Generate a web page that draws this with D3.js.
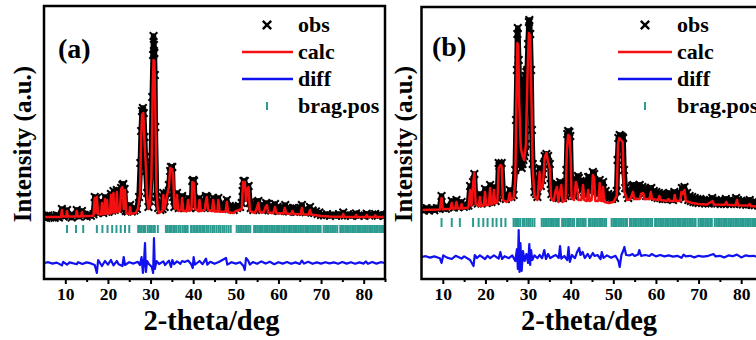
<!DOCTYPE html>
<html>
<head>
<meta charset="utf-8">
<script src="https://cdn.jsdelivr.net/npm/d3@7"></script>
<style>
  html, body { margin: 0; padding: 0; background: #fff; }
  svg { display: block; font-family: "Liberation Serif", "Times New Roman", serif; font-weight: bold; }
</style>
</head>
<body>
<div id="chart"></div>
<script>
// ---- data: [2theta, intensity] ----
const xTicks = [10, 20, 30, 40, 50, 60, 70, 80];
const xMinorTicks = [15, 25, 35, 45, 55, 65, 75, 85];

// panel (a)
const calcA = [[5,500],[9.0,500],[9.2,850],[9.4,520],[10.2,520],[10.4,800],[10.6,520],[12.5,520],[12.7,800],[12.9,530],[13.7,530],[13.9,750],[14.1,540],[16.6,560],[16.9,1450],[17.2,700],[17.4,1500],[17.7,650],[18.4,620],[18.6,1200],[18.8,640],[19.1,650],[19.3,1400],[19.5,650],[19.8,1350],[20.0,660],[20.5,680],[20.7,1600],[20.9,700],[21.1,1500],[21.3,1700],[21.5,720],[21.9,750],[22.1,1750],[22.3,760],[22.8,800],[23.1,1900],[23.4,2000],[23.7,900],[24.0,1850],[24.3,700],[25.0,650],[25.2,1000],[25.4,650],[26.5,700],[27.0,900],[27.5,1600],[27.8,4500],[28.0,5600],[28.3,5700],[28.6,4200],[28.9,3000],[29.2,1500],[29.5,900],[29.8,1100],[30.2,2500],[30.5,7000],[30.7,8350],[30.9,8300],[31.1,6000],[31.4,1800],[31.7,900],[32.0,700],[32.8,800],[33.0,1600],[33.3,900],[33.8,1500],[34.3,2000],[34.6,2950],[35.0,2900],[35.3,2600],[35.6,1000],[35.9,900],[36.2,1600],[36.5,800],[37.2,850],[37.4,1450],[37.7,800],[38.5,800],[38.8,1350],[39.1,800],[39.6,900],[39.8,2250],[40.2,2200],[40.5,900],[41.2,800],[41.5,1350],[41.8,800],[42.7,850],[43.0,1300],[43.2,1500],[43.5,850],[44.4,800],[44.7,1350],[45.0,780],[45.7,780],[45.9,1350],[46.2,760],[47.6,760],[47.9,1250],[48.2,740],[49.5,700],[50.0,800],[51.4,900],[51.7,2250],[52.1,2250],[52.4,1300],[52.7,1900],[53.0,2000],[53.3,800],[54.5,700],[55.0,1000],[55.3,1200],[55.6,750],[56.5,720],[57.0,1000],[57.3,1100],[57.6,720],[58.8,700],[59.2,1000],[59.5,700],[61.2,680],[61.5,950],[61.8,680],[63.0,650],[63.3,800],[63.6,650],[65.2,640],[65.5,950],[65.8,640],[67.1,630],[67.4,850],[67.7,620],[70,550],[72,520],[75,510],[75.2,650],[75.4,510],[78,500],[78.2,600],[78.4,500],[80.5,500],[80.7,600],[80.9,500],[82.5,500],[82.7,580],[82.9,500],[85,500]];

const obsA = [[5,560],[5.5,450],[6,580],[6.5,470],[7,550],[7.5,460],[8,590],[8.5,480],[9.2,900],[9.6,520],[10.4,850],[11,560],[11.5,470],[12,580],[12.7,850],[13.2,520],[13.9,800],[14.5,600],[15,520],[15.5,620],[16,560],[16.6,640],[16.9,1500],[17.2,780],[17.4,1450],[17.7,700],[18.1,760],[18.6,1250],[18.9,700],[19.3,1500],[19.6,760],[19.8,1400],[20.1,760],[20.4,820],[20.7,1650],[21.0,820],[21.3,1800],[21.6,860],[22.1,1850],[22.4,900],[22.8,950],[23.1,1950],[23.4,2100],[23.6,2150],[23.9,1900],[24.2,800],[24.6,780],[25.2,1100],[25.6,780],[26.2,820],[26.8,900],[27.3,1500],[27.6,3200],[27.8,4800],[28.0,5800],[28.2,5950],[28.4,5700],[28.6,4500],[28.9,2800],[29.2,1700],[29.5,1000],[29.8,1300],[30.2,3500],[30.4,6500],[30.6,8600],[30.7,9550],[30.8,9100],[30.9,8700],[31.0,7600],[31.1,5000],[31.4,1500],[31.8,950],[32.3,850],[32.8,900],[33.0,1700],[33.3,1000],[33.8,1700],[34.3,2100],[34.6,2800],[34.8,3000],[35.1,3000],[35.3,1500],[35.6,1000],[36.2,1700],[36.6,950],[37.0,1000],[37.4,1550],[37.8,950],[38.3,1000],[38.8,1450],[39.2,950],[39.6,1100],[39.8,2300],[40.0,2350],[40.2,2300],[40.4,1300],[40.8,950],[41.1,1200],[41.5,1450],[41.9,950],[42.2,1150],[42.5,1000],[43.0,1550],[43.3,1500],[43.7,1000],[44.0,1200],[44.2,950],[44.7,1450],[45.1,950],[45.5,1100],[45.9,1450],[46.3,950],[46.6,1150],[46.9,950],[47.3,1100],[47.9,1350],[48.3,900],[48.6,1050],[48.9,900],[49.2,1000],[49.5,850],[49.9,1000],[50.3,950],[50.7,1050],[51.0,1000],[51.4,1200],[51.6,1800],[51.8,2300],[52.1,2300],[52.4,1600],[52.7,2000],[53.0,2050],[53.3,1200],[53.5,950],[53.8,1150],[54.1,850],[54.4,1100],[54.7,900],[55.0,1250],[55.3,1300],[55.6,900],[55.9,1100],[56.2,850],[56.5,1050],[56.8,880],[57.1,1200],[57.4,1150],[57.7,850],[58.0,1050],[58.3,820],[58.6,1000],[58.9,900],[59.2,1150],[59.5,850],[59.8,1000],[60.1,800],[60.4,980],[60.7,820],[61.0,950],[61.3,900],[61.6,1100],[61.9,800],[62.2,950],[62.5,780],[62.8,920],[63.1,820],[63.4,950],[63.7,760],[64.0,900],[64.3,760],[64.6,880],[64.9,800],[65.2,950],[65.5,1100],[65.8,780],[66.1,880],[66.4,740],[66.7,860],[67.0,760],[67.4,1000],[67.7,720],[68.0,820],[68.4,700],[68.8,780],[69.2,650],[69.6,720],[70,600],[70.7,580],[71.4,640],[72.1,560],[72.8,620],[73.5,560],[74.2,640],[74.9,580],[75.2,720],[75.6,570],[76.3,630],[77,560],[77.7,620],[78.2,680],[78.8,560],[79.5,620],[80.2,560],[80.7,660],[81.3,580],[82,630],[82.7,650],[83.3,560],[84,620],[84.6,560],[85,590]];

const diffA = [[5,0],[6,40],[7,-30],[8,20],[9.2,-120],[9.5,60],[10.4,-80],[11,30],[12.7,-60],[13,40],[14,-50],[15,30],[16,-20],[16.9,-100],[17.4,-500],[17.7,150],[18.6,-150],[19.3,100],[20,-80],[20.7,150],[21.3,-120],[22.1,100],[22.5,-60],[23.4,-150],[23.7,300],[24.0,-100],[25,40],[26,-30],[27,60],[27.5,-100],[27.9,300],[28.2,-500],[28.5,200],[28.7,1000],[28.9,-450],[29.2,100],[29.6,-50],[30.3,-200],[30.6,-500],[30.8,1250],[31.0,-300],[31.4,100],[32,-50],[33,80],[33.4,-100],[34.3,120],[34.8,-200],[35.1,150],[35.5,-60],[36.2,80],[37,-40],[37.4,100],[38,50],[38.8,120],[39.5,-50],[39.9,-250],[40.1,300],[40.4,-80],[41.5,100],[42.2,-60],[43.0,220],[43.3,-80],[44,60],[45,-40],[46,50],[47.7,250],[48,-80],[49,40],[50,-30],[51,40],[51.8,-150],[52.1,-350],[52.4,250],[52.9,120],[53.3,-80],[54,50],[55,-40],[56,80],[57,-30],[58,60],[59,-60],[60,40],[61,-30],[62,50],[63,-40],[64,30],[65,-50],[65.5,120],[66,-30],[67,60],[68,-40],[69,30],[70,-30],[71,40],[72,-20],[73,30],[74,-40],[75,50],[76,-30],[77,40],[78,-40],[79,30],[80,-30],[80.5,80],[81,-40],[82,50],[83,-30],[84,40],[85,0]];

const braggA = [10.4, 12.5, 14.2, 17.4, 18.7, 19.9, 21.0, 22.0, 23.0, 24.0, 25.0,
  27.1, 27.5, 27.9, 28.3, 28.7, 29.3, 29.7, 30.1, 30.6, 31.0, 31.7,
  33.6, 34.0, 34.4, 34.8, 35.3, 35.7, 36.1, 36.6, 37.0, 37.5, 37.9, 38.3, 38.7,
  39.5, 40.0, 40.4, 40.9, 41.4, 41.8, 42.3, 42.7, 43.2, 43.6, 44.1, 44.6, 45.0, 45.5, 46.0, 46.4, 46.9, 47.3, 47.8, 48.3, 48.8,
  50.2, 50.6, 51.0, 51.4, 51.8, 52.2, 52.6, 53.0, 53.4,
  54.3, 54.7, 55.1, 55.5, 55.9, 56.3, 56.7, 57.1, 57.5, 57.9, 58.3, 58.7, 59.1, 59.5, 59.9, 60.3, 60.7, 61.1, 61.5, 61.9,
  62.3, 62.7, 63.1, 63.5, 63.9, 64.3, 64.7, 65.1, 65.5, 65.9, 66.3, 66.7, 67.1, 67.5, 67.9, 68.3, 68.7, 69.1, 69.5, 69.9,
  70.6, 71.0, 71.4, 71.8, 72.2, 72.6, 73.0, 73.4, 73.8,
  74.5, 74.9, 75.3, 75.7, 76.1, 76.5, 76.9, 77.3, 77.7, 78.1, 78.5, 78.9, 79.3, 79.7, 80.1, 80.5, 80.9, 81.3, 81.7,
  82.1, 82.5, 82.9, 83.3, 83.7, 84.1, 84.5, 84.9];

// panel (b)
const calcB = [[5,500],[9.3,520],[9.7,1100],[10.0,540],[11.8,560],[12.1,850],[12.4,560],[12.9,570],[13.2,900],[13.5,570],[14.2,580],[14.4,800],[14.6,580],[16.0,620],[16.4,1500],[16.7,700],[17.1,1800],[17.4,2350],[17.7,800],[18.4,700],[18.7,1150],[19.0,700],[19.6,720],[19.9,1400],[20.2,740],[20.8,760],[21.1,1600],[21.4,780],[21.7,800],[22.0,1500],[22.3,820],[22.8,900],[23.1,2600],[23.5,2750],[23.8,2700],[24.1,1000],[25.0,900],[25.4,1000],[25.7,1350],[26.0,1000],[26.6,1100],[27.0,2000],[27.3,6500],[27.5,8850],[27.7,8700],[27.9,6000],[28.3,3600],[28.7,3200],[29.1,3000],[29.5,3800],[29.9,7500],[30.2,9350],[30.5,9200],[30.8,6000],[31.1,2500],[31.5,1200],[32.2,1000],[32.7,2400],[33.0,1500],[33.5,1800],[33.9,3100],[34.3,3350],[34.7,2900],[35.1,2600],[35.4,1100],[36.0,950],[36.5,1500],[36.8,1650],[37.1,900],[37.5,1400],[37.8,1750],[38.1,900],[38.8,1000],[39.1,3500],[39.4,4250],[39.7,4200],[40.0,3200],[40.2,1100],[40.8,1000],[41.2,1900],[41.5,1700],[41.8,1000],[42.5,1000],[42.9,1750],[43.2,1000],[43.8,950],[44.1,1500],[44.4,950],[44.9,1000],[45.2,2250],[45.5,2100],[45.8,950],[46.5,950],[46.8,1850],[47.1,950],[47.4,950],[47.6,1650],[47.9,900],[49.0,850],[50.0,900],[50.8,1200],[51.1,3800],[51.4,4100],[51.8,4000],[52.2,3900],[52.5,1500],[53.2,1000],[54.0,1050],[54.6,1400],[54.9,1050],[56.2,1050],[56.5,1300],[57.0,1350],[57.3,1050],[58.5,1050],[58.8,1400],[59.1,1050],[60.5,1000],[60.8,1200],[61.1,1000],[62.5,950],[63,1050],[63.3,950],[64.2,950],[64.4,1250],[64.7,950],[65.7,950],[66.0,1400],[66.3,1300],[66.7,1500],[67.0,950],[68.5,850],[70,800],[72,780],[73.3,950],[73.6,780],[76.2,760],[76.5,900],[76.8,760],[78.7,740],[79.0,1000],[79.3,740],[81.7,720],[82.0,800],[82.3,700],[85,650]];

const obsB = [[5,560],[5.6,470],[6.2,590],[6.8,480],[7.4,580],[8,490],[8.6,590],[9.2,560],[9.7,1200],[10.1,600],[10.7,560],[11.3,640],[12.1,950],[12.6,620],[13.2,1000],[13.7,640],[14.4,900],[14.9,660],[15.5,700],[16.0,720],[16.4,1700],[16.7,1000],[17.1,1900],[17.4,2300],[17.7,900],[18.2,820],[18.7,1300],[19.1,820],[19.9,1550],[20.3,850],[20.8,900],[21.1,1750],[21.4,900],[22.0,1650],[22.4,950],[22.8,1100],[23.1,2850],[23.3,2700],[23.5,2750],[23.8,2850],[24.2,1200],[24.8,1050],[25.4,1150],[25.7,1500],[26.1,1150],[26.6,1250],[27.0,2500],[27.2,5000],[27.4,7500],[27.5,9300],[27.6,9600],[27.8,8000],[28.0,6500],[28.1,3000],[28.2,5600],[28.3,2800],[28.4,6000],[28.5,2600],[28.6,6400],[28.7,2800],[28.8,6600],[28.9,3000],[29.0,6800],[29.1,3200],[29.2,7000],[29.3,3400],[29.4,7200],[29.5,3800],[29.6,7400],[29.8,7500],[30.0,8800],[30.2,9900],[30.3,10000],[30.5,9300],[30.7,7500],[30.9,4500],[31.1,2800],[31.5,1400],[31.9,1300],[32.2,1150],[32.5,1800],[32.7,2600],[33.0,1700],[33.3,2000],[33.5,2300],[33.7,2800],[33.9,3200],[34.3,3300],[34.7,3200],[35.1,2800],[35.3,1800],[35.5,1300],[35.8,1500],[36.0,1150],[36.3,1600],[36.5,1750],[36.8,1800],[37.0,1300],[37.2,1100],[37.5,1900],[37.8,1850],[38.0,1400],[38.2,1100],[38.5,1350],[38.8,1200],[39.0,2500],[39.2,4300],[39.4,4450],[39.7,4400],[39.9,4200],[40.2,1300],[40.5,1600],[40.8,1200],[41.0,1800],[41.2,2050],[41.5,1900],[41.7,2200],[41.9,2100],[42.1,1700],[42.3,1950],[42.6,1500],[42.9,1950],[43.1,1400],[43.3,1600],[43.6,1250],[43.8,1500],[44.1,2150],[44.4,2150],[44.7,1500],[45.0,1900],[45.2,2400],[45.5,2300],[45.8,1400],[46.1,1600],[46.4,1300],[46.8,2000],[47.0,1400],[47.3,1700],[47.6,1900],[47.9,1300],[48.2,1450],[48.5,1150],[48.8,1300],[49.1,1100],[49.4,1250],[49.7,1050],[50.0,1200],[50.4,1100],[50.8,1450],[51.0,3000],[51.2,4100],[51.5,4250],[51.8,4200],[52.1,4150],[52.3,4100],[52.5,2500],[52.8,1600],[53.2,1300],[53.5,1100],[53.8,1500],[54.1,1200],[54.4,1700],[54.7,1750],[55.0,1300],[55.3,1650],[55.6,1250],[55.9,1700],[56.2,1750],[56.5,1350],[56.8,1650],[57.1,1300],[57.4,1600],[57.7,1200],[58.0,1500],[58.3,1200],[58.6,1550],[58.9,1600],[59.2,1250],[59.5,1450],[59.8,1150],[60.1,1400],[60.4,1100],[60.7,1350],[61.0,1100],[61.3,1300],[61.6,1050],[61.9,1300],[62.2,1050],[62.5,1250],[62.8,1050],[63.1,1350],[63.4,1050],[63.7,1250],[64.0,1000],[64.3,1400],[64.6,1150],[64.9,1300],[65.2,1050],[65.5,1350],[65.8,1200],[66.1,1600],[66.4,1400],[66.7,1650],[67.0,1150],[67.3,1350],[67.6,1000],[67.9,1200],[68.2,950],[68.5,1150],[68.8,900],[69.1,1100],[69.4,880],[69.7,1050],[70.0,850],[70.4,1050],[70.8,850],[71.2,1000],[71.6,830],[72.0,1000],[72.4,820],[72.8,980],[73.2,1100],[73.6,850],[74.0,1000],[74.4,820],[74.8,980],[75.2,800],[75.6,960],[76.0,800],[76.4,1050],[76.8,820],[77.2,980],[77.6,800],[78.0,960],[78.4,800],[78.8,1100],[79.2,1000],[79.6,820],[80.0,960],[80.4,780],[80.8,940],[81.2,760],[81.6,920],[82.0,1000],[82.4,760],[82.8,900],[83.2,740],[83.6,880],[84.0,720],[84.4,860],[84.8,720],[85,800]];

const diffB = [[5,0],[6,40],[7,-30],[8,30],[9.3,-60],[9.7,-300],[10.1,80],[11,-30],[12.1,-100],[13,60],[14.4,-80],[15,30],[16.4,-150],[17.2,-450],[17.5,100],[18,-50],[18.7,80],[19.9,-100],[20.5,60],[21.1,-60],[22,80],[23.1,-80],[23.5,250],[23.9,-100],[24.5,40],[25.5,-60],[26.3,80],[27.0,-200],[27.4,400],[27.6,-600],[27.8,1350],[28.0,-750],[28.2,700],[28.5,-700],[28.8,300],[29.2,-200],[29.6,150],[30.0,-300],[30.3,650],[30.5,-400],[30.7,350],[31,-150],[31.5,80],[32.2,-60],[32.7,100],[33.3,-60],[33.8,350],[34.2,-100],[34.7,150],[35.2,-60],[36,50],[36.5,100],[37.2,-50],[37.5,550],[37.8,-80],[38.5,50],[39.2,-150],[39.5,500],[39.8,-250],[40.3,100],[41,-60],[41.5,250],[42.0,450],[42.3,100],[42.8,250],[43.3,-50],[44,150],[44.5,-50],[45.2,200],[45.6,50],[46.3,100],[47,-100],[47.3,250],[47.7,-50],[48.5,80],[49.5,-40],[50.5,60],[51.2,-200],[51.5,-500],[51.9,100],[52.3,300],[52.6,500],[53,100],[53.8,80],[54.5,150],[55,50],[55.8,120],[56.1,350],[56.5,60],[57.5,100],[58.5,50],[59,150],[60,30],[61,100],[62,30],[63,80],[64,20],[65,60],[66,-40],[66.5,120],[67,30],[68,60],[69,-20],[70,60],[71,20],[72,40],[73.5,150],[74,30],[75,60],[76,-20],[77,80],[78,40],[79,120],[80,-20],[81,80],[82,40],[83,60],[84,-20],[85,40]];

const braggB = [9.7, 12.1, 14.0, 17.1, 18.4, 19.5, 20.5, 21.7, 22.6, 23.7, 24.7,
  26.6, 27.0, 27.4, 27.8, 28.2, 28.8, 29.2, 29.7, 30.1, 30.5, 31.0, 31.5,
  33.2, 33.6, 34.0, 34.4, 34.8, 35.2, 35.6, 36.0, 36.4, 36.8, 37.2, 38.0, 38.4, 38.8, 39.2, 39.6, 40.0, 40.4, 40.8,
  41.5, 41.9, 42.3, 42.7, 43.1, 43.5, 44.3, 44.7, 45.1, 45.5, 45.9, 46.3, 46.7, 47.1, 47.5, 47.9, 48.3,
  49.6, 50.0, 50.4, 50.8, 51.2, 51.6, 52.0, 52.4, 52.8, 53.2,
  53.9, 54.3, 54.7, 55.1, 55.5, 55.9, 56.3, 56.7, 57.1, 57.5, 57.9, 58.3, 58.7, 59.1,
  59.8, 60.2, 60.6, 61.0, 61.4, 61.8, 62.2, 62.6, 63.0, 63.4, 63.8, 64.2, 64.6, 65.0, 65.4, 65.8, 66.2, 66.6, 67.0,
  67.4, 67.8, 68.2, 68.6, 69.0, 69.3,
  70.0, 70.4, 70.8, 71.2, 71.6, 72.0, 72.4, 72.8, 73.1,
  73.8, 74.2, 74.6, 75.0, 75.4, 75.8, 76.2, 76.6, 77.0, 77.4, 77.8, 78.2, 78.6, 79.0, 79.4, 79.8, 80.2, 80.6, 81.0,
  81.4, 81.8, 82.2, 82.6, 83.0, 83.4, 83.8, 84.2, 84.6, 85.0];

const legendLabels = ['obs', 'calc', 'diff', 'brag.pos'];

// colours
const RED = '#f41010';
const BLUE = '#1010f0';
const TEAL = '#2b9b90';

// cross marker path
function xMark(s) {
  return `M${-s},${-s}L${s},${s}M${-s},${s}L${s},${-s}`;
}

const svg = d3.select('#chart').append('svg')
  .attr('width', 756)
  .attr('height', 340)
  .attr('viewBox', '0 0 756 340');

function drawPanel(cfg) {
  const x = d3.scaleLinear().domain([5, 85]).range([cfg.left, cfg.right]);
  const y = d3.scaleLinear().domain(cfg.yDomain).range([cfg.bottom, cfg.top]);
  const g = svg.append('g');

  // clip the curves to the frame
  const clipId = 'clip-' + cfg.id;
  svg.append('clipPath').attr('id', clipId)
    .append('rect')
    .attr('x', cfg.left).attr('y', cfg.top)
    .attr('width', cfg.right - cfg.left).attr('height', cfg.bottom - cfg.top);
  const plot = g.append('g').attr('clip-path', `url(#${clipId})`);

  const line = d3.line().x(d => x(d[0])).y(d => y(d[1]));

  // observed: dense black band + x markers
  plot.append('path')
    .datum(cfg.obs)
    .attr('d', line)
    .attr('fill', 'none')
    .attr('stroke', '#000')
    .attr('stroke-width', 5.5)
    .attr('stroke-linejoin', 'round');

  plot.selectAll('.obs-mark')
    .data(cfg.obs)
    .join('path')
    .attr('class', 'obs-mark')
    .attr('transform', d => `translate(${x(d[0])},${y(d[1])})`)
    .attr('d', xMark(3.8))
    .attr('stroke', '#000')
    .attr('stroke-width', 2);

  // calculated
  plot.append('path')
    .datum(cfg.calc)
    .attr('d', line)
    .attr('fill', 'none')
    .attr('stroke', RED)
    .attr('stroke-width', 2.5)
    .attr('stroke-linejoin', 'round');

  // bragg positions
  plot.selectAll('.bragg')
    .data(cfg.bragg)
    .join('line')
    .attr('class', 'bragg')
    .attr('x1', d => x(d)).attr('x2', d => x(d))
    .attr('y1', y(cfg.braggTop)).attr('y2', y(cfg.braggBottom))
    .attr('stroke', TEAL)
    .attr('stroke-width', 2);

  // difference curve (offset)
  const diffLine = d3.line().x(d => x(d[0])).y(d => y(d[1] + cfg.diffOffset));
  plot.append('path')
    .datum(cfg.diff)
    .attr('d', diffLine)
    .attr('fill', 'none')
    .attr('stroke', BLUE)
    .attr('stroke-width', 2.2)
    .attr('stroke-linejoin', 'round');

  // frame
  g.append('rect')
    .attr('x', cfg.left).attr('y', cfg.top)
    .attr('width', cfg.right - cfg.left).attr('height', cfg.bottom - cfg.top)
    .attr('fill', 'none')
    .attr('stroke', '#000')
    .attr('stroke-width', 2.5);

  // x axis, major + minor ticks
  const ax = g.append('g')
    .attr('transform', `translate(0,${cfg.bottom})`)
    .call(d3.axisBottom(x).tickValues(xTicks).tickSize(5).tickPadding(4).tickFormat(d3.format('d')));
  ax.select('.domain').remove();
  ax.selectAll('line').attr('stroke', '#000').attr('stroke-width', 2);
  ax.selectAll('text')
    .attr('fill', '#000')
    .style('font-family', '"Liberation Serif", serif')
    .style('font-weight', 'bold')
    .style('font-size', '17.5px');

  const axMinor = g.append('g')
    .attr('transform', `translate(0,${cfg.bottom})`)
    .call(d3.axisBottom(x).tickValues(xMinorTicks).tickSize(3));
  axMinor.select('.domain').remove();
  axMinor.selectAll('text').remove();
  axMinor.selectAll('line').attr('stroke', '#000').attr('stroke-width', 2);

  // axis titles
  g.append('text')
    .attr('x', (cfg.left + cfg.right) / 2 - 3)
    .attr('y', 330)
    .attr('text-anchor', 'middle')
    .style('font-size', '28.5px')
    .text('2-theta/deg');

  g.append('text')
    .attr('transform', `translate(${cfg.yTitleX},144) rotate(-90)`)
    .attr('text-anchor', 'middle')
    .style('font-size', '25px')
    .text('Intensity (a.u.)');

  // panel label
  g.append('text')
    .attr('x', cfg.labelX)
    .attr('y', cfg.labelY)
    .style('font-size', '28px')
    .text(cfg.label);

  // legend
  const lg = g.append('g').attr('transform', `translate(${cfg.legendX},${cfg.legendY})`);
  const rowH = 27;
  lg.append('path')
    .attr('transform', `translate(${cfg.legendMark},0)`)
    .attr('d', xMark(4.2))
    .attr('stroke', '#000')
    .attr('stroke-width', 2.4);
  lg.append('line')
    .attr('x1', 0).attr('x2', cfg.legendLine)
    .attr('y1', rowH).attr('y2', rowH)
    .attr('stroke', RED).attr('stroke-width', 2.5);
  lg.append('line')
    .attr('x1', 0).attr('x2', cfg.legendLine)
    .attr('y1', rowH * 2).attr('y2', rowH * 2)
    .attr('stroke', BLUE).attr('stroke-width', 2.5);
  lg.append('line')
    .attr('x1', cfg.legendMark).attr('x2', cfg.legendMark)
    .attr('y1', rowH * 3 - 4).attr('y2', rowH * 3 + 4)
    .attr('stroke', TEAL).attr('stroke-width', 2);
  lg.selectAll('.lg-text')
    .data(legendLabels)
    .join('text')
    .attr('class', 'lg-text')
    .attr('x', cfg.legendLine + 5)
    .attr('y', (d, i) => i * rowH + 7)
    .style('font-size', '22px')
    .text(d => d);
}

drawPanel({
  id: 'a', left: 44, right: 385, top: 6, bottom: 279,
  yDomain: [-2600, 11050],
  calc: calcA, obs: obsA, diff: diffA, bragg: braggA,
  braggTop: 100, braggBottom: -300, diffOffset: -1800,
  yTitleX: 31, label: '(a)', labelX: 58, labelY: 58,
  legendX: 242, legendY: 25, legendLine: 51, legendMark: 25
});

drawPanel({
  id: 'b', left: 421.5, right: 762.5, top: 7, bottom: 279,
  yDomain: [-2950, 10650],
  calc: calcB, obs: obsB, diff: diffB, bragg: braggB,
  braggTop: 100, braggBottom: -350, diffOffset: -1850,
  yTitleX: 412, label: '(b)', labelX: 432, labelY: 56,
  legendX: 618, legendY: 25, legendLine: 54, legendMark: 27
});
</script>
</body>
</html>
